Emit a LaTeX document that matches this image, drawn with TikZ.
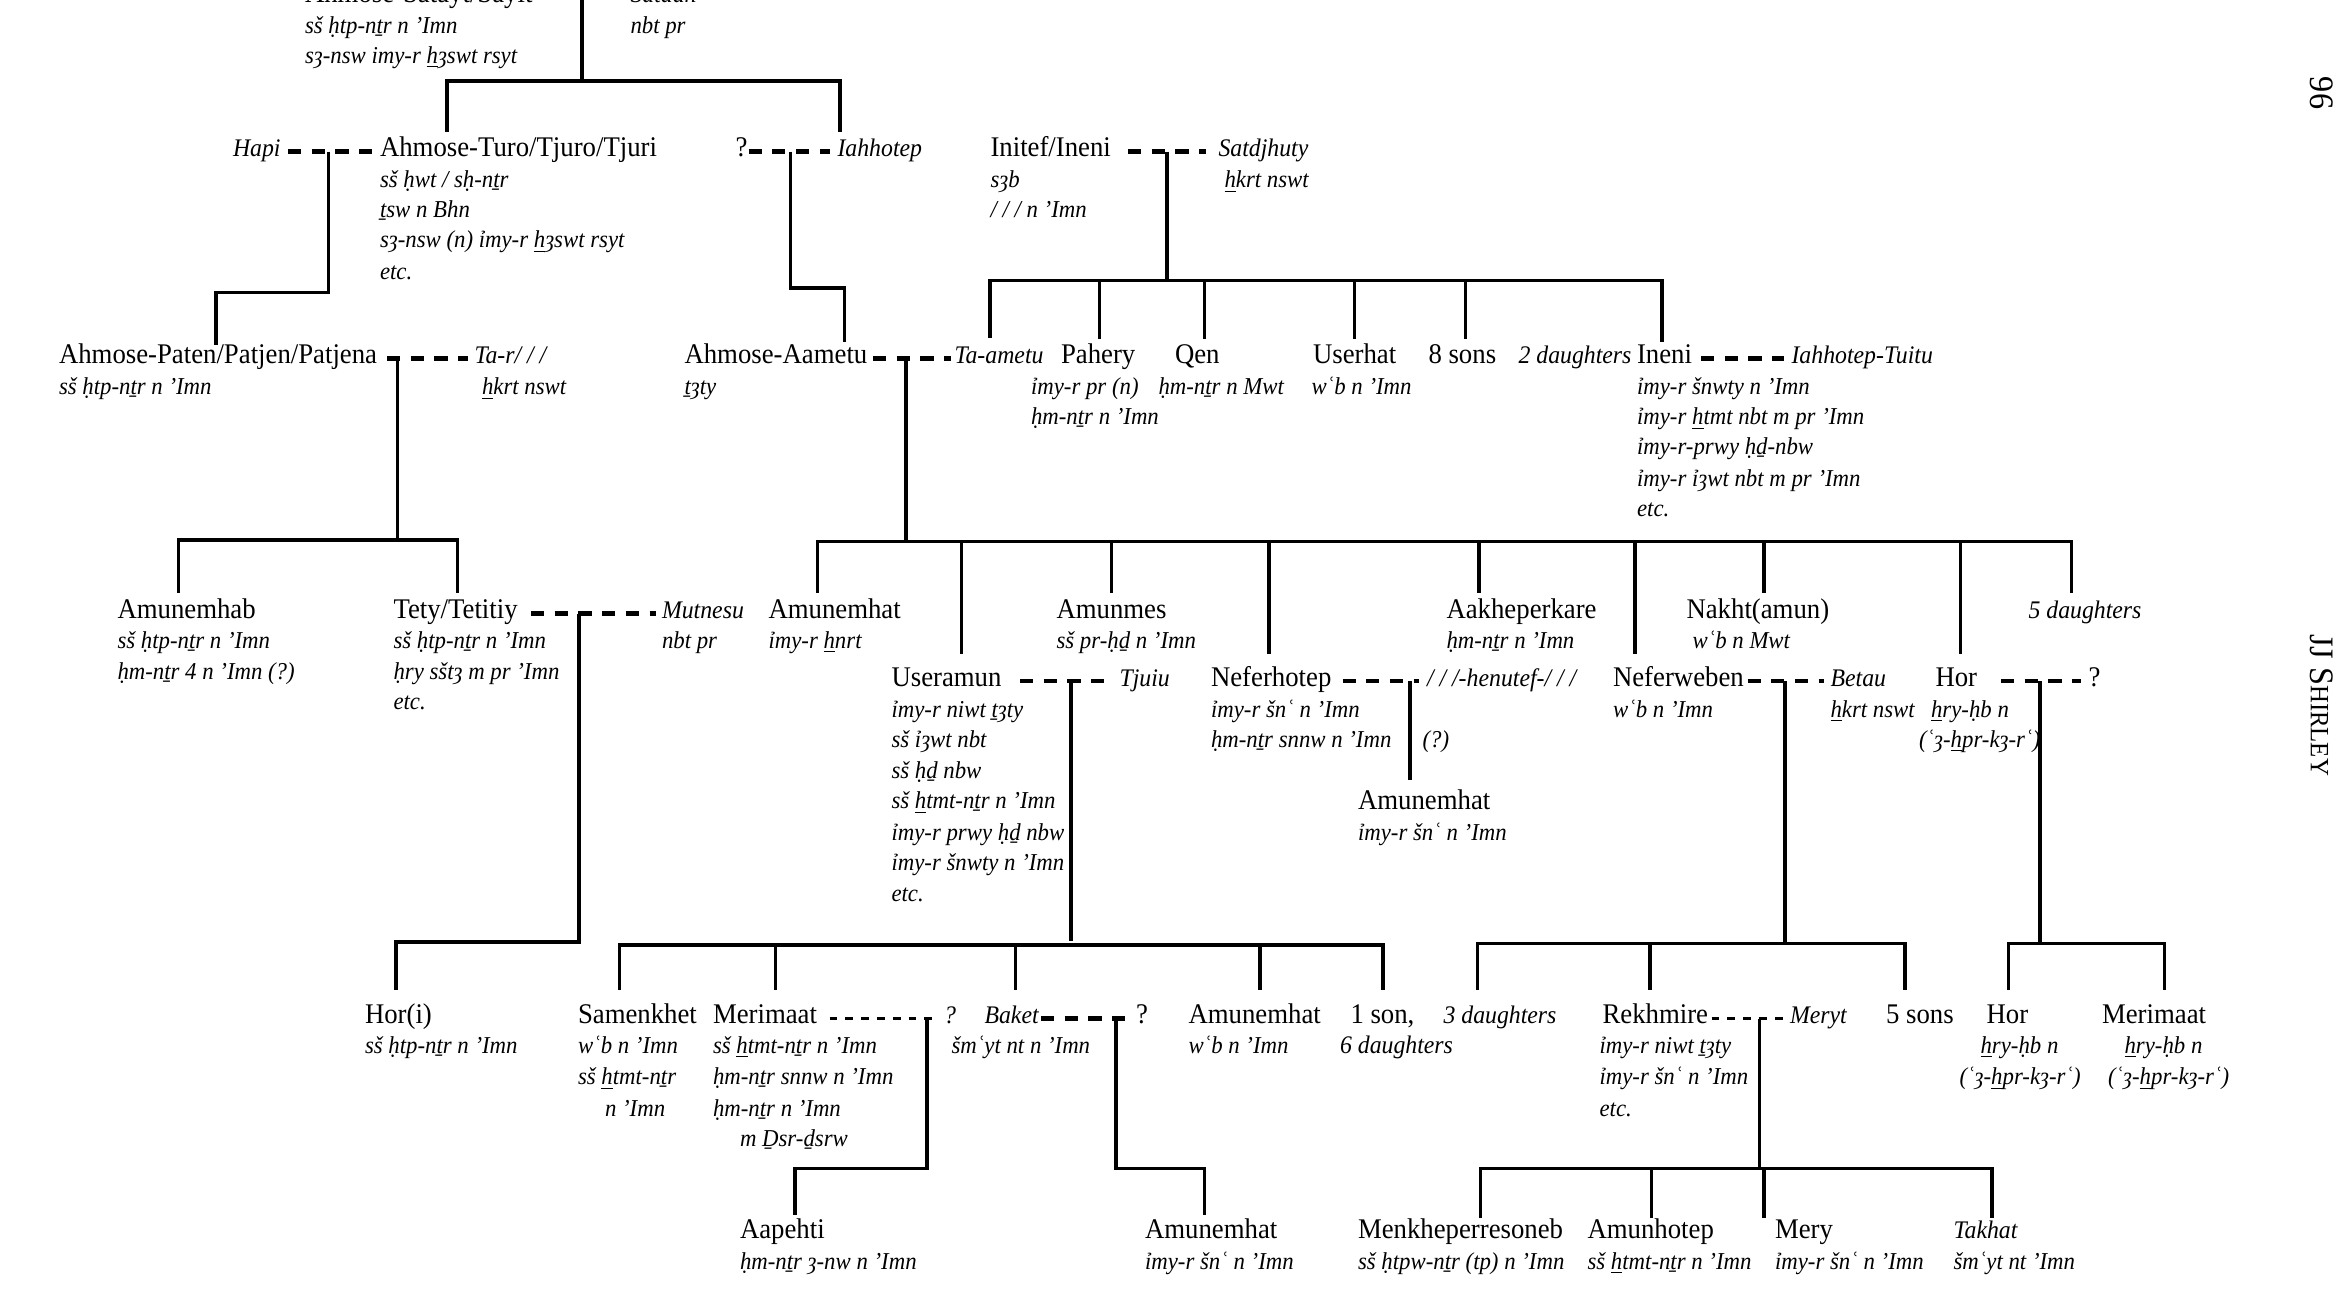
\documentclass[tikz,border=0pt]{standalone}
\usepackage{fontspec}
\setmainfont{Liberation Serif}[FakeStretch=0.94]
\tikzset{
 nmst/.style={inner sep=0pt,font=\fontsize{10.8}{12}\selectfont},
 nmi/.style={inner sep=0pt,font=\fontsize{9.6}{12}\selectfont\itshape},
 sbst/.style={inner sep=0pt,font=\fontsize{9.2}{11}\selectfont\itshape},
 tree/.style={line width=1.2pt},
 marr/.style={line width=1.6pt,dash pattern=on 5pt off 4pt},
 marr2/.style={line width=1.3pt,dash pattern=on 3pt off 3pt}
}
\newcommand\PN[3]{\node[nmst,anchor=base west] at (#1,#2+4.5) {#3};}
\newcommand\PI[3]{\node[nmi,anchor=base west] at (#1,#2+4.5) {#3};}
\newcommand\PS[3]{\node[sbst,anchor=base west] at (#1,#2+4) {#3};}
\newcommand\UL[1]{\underline{#1}}
\begin{document}
\begin{tikzpicture}[x=0.02cm,y=-0.02cm]
\useasboundingbox (0,0) rectangle (1568,873);
\clip (0,0) rectangle (1568,873);
% top
\PN{203}{-3}{Ahmose-Satayt/Sayit}
\PS{203}{18}{sš ḥtp-nṯr n ’Imn}
\PS{203}{38}{sȝ-nsw imy-r \UL{h}ȝswt rsyt}
\PI{420}{-3}{Sataah}
\PS{420}{18}{nbt pr}
\draw[tree] (388,0) -- (388,54) (298,88) -- (298,54) -- (560,54) -- (560,88);
% row 1
\PI{155}{100}{Hapi}
\draw[marr] (192,101) -- (248,101);
\draw[tree] (219,101) -- (219,195) -- (144,195) -- (144,230);
\PN{253}{100}{Ahmose-Turo/Tjuro/Tjuri}
\PS{253}{121}{sš ḥwt / sḥ-nṯr}
\PS{253}{141}{ṯsw n Bhn}
\PS{253}{161}{sȝ-nsw (n) ỉmy-r \UL{h}ȝswt rsyt}
\PS{253}{182}{etc.}
\PN{490}{100}{?}
\draw[marr] (499,101) -- (553,101);
\PI{558}{100}{Iahhotep}
\draw[tree] (527,101) -- (527,192) -- (563,192) -- (563,228);
\PN{660}{100}{Initef/Ineni}
\PS{660}{121}{sȝb}
\PS{660}{141}{/ / / n ’Imn}
\draw[marr] (752,101) -- (804,101);
\PI{812}{100}{Satdjhuty}
\PS{816}{121}{\UL{h}krt nswt}
\draw[tree] (778,101) -- (778,187);
\draw[tree] (660,225) -- (660,187) -- (1108,187) -- (1108,228);
\foreach \x in {733,803,903,977} \draw[tree] (\x,187) -- (\x,226);
% row 2
\PN{39}{238}{Ahmose-Paten/Patjen/Patjena}
\PS{39}{259}{sš ḥtp-nṯr n ’Imn}
\draw[marr] (258,239) -- (312,239);
\PI{316}{238}{Ta-r/ / /}
\PS{321}{259}{\UL{h}krt nswt}
\draw[tree] (265,239) -- (265,360);
\draw[tree] (119,395) -- (119,360) -- (305,360) -- (305,395);
\PN{456}{238}{Ahmose-Aametu}
\PS{456}{259}{ṯȝty}
\draw[marr] (582,239) -- (634,239);
\PI{636}{238}{Ta-ametu}
\draw[tree] (604,239) -- (604,361);
\draw[tree] (545,395) -- (545,361) -- (1381,361) -- (1381,395);
\foreach \x/\y in {641/436,741/395,846/436,986/395,1090/436,1176/395,1307/436} \draw[tree] (\x,361) -- (\x,\y);
\PN{707}{238}{Pahery}
\PS{687}{259}{ỉmy-r pr (n)}
\PS{687}{279}{ḥm-nṯr n ’Imn}
\PN{783}{238}{Qen}
\PS{772}{259}{ḥm-nṯr n Mwt}
\PN{875}{238}{Userhat}
\PS{874}{259}{wʿb n ’Imn}
\PN{952}{238}{8 sons}
\PI{1012}{238}{2 daughters}
\PN{1091}{238}{Ineni}
\draw[marr] (1134,239) -- (1189,239);
\PI{1194}{238}{Iahhotep-Tuitu}
\PS{1091}{259}{ỉmy-r šnwty n ’Imn}
\PS{1091}{279}{ỉmy-r \UL{h}tmt nbt m pr ’Imn}
\PS{1091}{299}{ỉmy-r-prwy ḥḏ-nbw}
\PS{1091}{320}{ỉmy-r ỉȝwt nbt m pr ’Imn}
\PS{1091}{340}{etc.}
% row 3
\PN{78}{408}{Amunemhab}
\PS{78}{428}{sš ḥtp-nṯr n ’Imn}
\PS{78}{449}{ḥm-nṯr 4 n ’Imn (?)}
\PN{262}{408}{Tety/Tetitiy}
\PS{262}{428}{sš ḥtp-nṯr n ’Imn}
\PS{262}{449}{ḥry sštȝ m pr ’Imn}
\PS{262}{469}{etc.}
\draw[marr] (354,409) -- (437,409);
\PI{441}{408}{Mutnesu}
\PS{441}{428}{nbt pr}
\draw[tree] (386,409) -- (386,628) -- (264,628) -- (264,660);
\PN{512}{408}{Amunemhat}
\PS{512}{428}{ỉmy-r \UL{h}nrt}
\PN{704}{408}{Amunmes}
\PS{704}{428}{sš pr-ḥḏ n ’Imn}
\PN{964}{408}{Aakheperkare}
\PS{964}{428}{ḥm-nṯr n ’Imn}
\PN{1124}{408}{Nakht(amun)}
\PS{1128}{428}{wʿb n Mwt}
\PI{1352}{408}{5 daughters}
% row 3b
\PN{594}{453}{Useramun}
\PS{594}{474}{ỉmy-r niwt ṯȝty}
\PS{594}{494}{sš ỉȝwt nbt}
\PS{594}{515}{sš ḥḏ nbw}
\PS{594}{535}{sš \UL{h}tmt-nṯr n ’Imn}
\PS{594}{556}{ỉmy-r prwy ḥḏ nbw}
\PS{594}{576}{ỉmy-r šnwty n ’Imn}
\PS{594}{597}{etc.}
\draw[marr] (680,454) -- (741,454);
\PI{746}{453}{Tjuiu}
\draw[tree] (714,454) -- (714,627);
\draw[tree] (413,660) -- (413,630) -- (922,630) -- (922,660);
\foreach \x in {517,677,840} \draw[tree] (\x,630) -- (\x,660);
\PN{807}{453}{Neferhotep}
\PS{807}{474}{ỉmy-r šnʿ n ’Imn}
\PS{807}{494}{ḥm-nṯr snnw n ’Imn}
\draw[marr] (895,454) -- (946,454);
\PI{951}{453}{/ / /-henutef-/ / /}
\PS{948}{494}{(?)}
\draw[tree] (940,454) -- (940,520);
\PN{905}{535}{Amunemhat}
\PS{905}{556}{ỉmy-r šnʿ n ’Imn}
\PN{1075}{453}{Neferweben}
\PS{1075}{474}{wʿb n ’Imn}
\draw[marr] (1165,454) -- (1216,454);
\PI{1220}{453}{Betau}
\PS{1220}{474}{\UL{h}krt nswt}
\draw[tree] (1190,454) -- (1190,629);
\draw[tree] (985,660) -- (985,629) -- (1270,629) -- (1270,660);
\draw[tree] (1100,629) -- (1100,660);
\PN{1290}{453}{Hor}
\PS{1287}{474}{\UL{h}ry-ḥb n}
\PS{1279}{494}{(ʿȝ-\UL{h}pr-kȝ-rʿ)}
\draw[marr] (1334,454) -- (1387,454);
\PN{1392}{453}{?}
\draw[tree] (1360,454) -- (1360,629);
\draw[tree] (1339,660) -- (1339,629) -- (1443,629) -- (1443,660);
% row 4
\PN{243}{678}{Hor(i)}
\PS{243}{698}{sš ḥtp-nṯr n ’Imn}
\PN{385}{678}{Samenkhet}
\PS{385}{698}{wʿb n ’Imn}
\PS{385}{719}{sš \UL{h}tmt-nṯr}
\PS{403}{740}{n ’Imn}
\PN{475}{678}{Merimaat}
\PS{475}{698}{sš \UL{h}tmt-nṯr n ’Imn}
\PS{475}{719}{ḥm-nṯr snnw n ’Imn}
\PS{475}{740}{ḥm-nṯr n ’Imn}
\PS{493}{760}{m Ḏsr-ḏsrw}
\draw[marr2] (553,679) -- (622,679);
\PI{629}{678}{?}
\draw[tree] (618,679) -- (618,779) -- (530,779) -- (530,810);
\PI{656}{678}{Baket}
\PS{634}{698}{šmʿyt nt n ’Imn}
\draw[marr] (694,679) -- (750,679);
\PN{757}{678}{?}
\draw[tree] (744,679) -- (744,779) -- (803,779) -- (803,810);
\PN{792}{678}{Amunemhat}
\PS{792}{698}{wʿb n ’Imn}
\PN{900}{678}{1 son,}
\PI{893}{698}{6 daughters}
\PI{962}{678}{3 daughters}
\PN{1068}{678}{Rekhmire}
\PS{1066}{698}{ỉmy-r niwt ṯȝty}
\PS{1066}{719}{ỉmy-r šnʿ n ’Imn}
\PS{1066}{740}{etc.}
\draw[marr2] (1141,679) -- (1189,679);
\PI{1193}{678}{Meryt}
\draw[tree] (1173,679) -- (1173,779);
\draw[tree] (987,812) -- (987,779) -- (1328,779) -- (1328,812);
\foreach \x in {1101,1176} \draw[tree] (\x,779) -- (\x,812);
\PN{1257}{678}{5 sons}
\PN{1324}{678}{Hor}
\PS{1320}{698}{\UL{h}ry-ḥb n}
\PS{1306}{719}{(ʿȝ-\UL{h}pr-kȝ-rʿ)}
\PN{1401}{678}{Merimaat}
\PS{1416}{698}{\UL{h}ry-ḥb n}
\PS{1405}{719}{(ʿȝ-\UL{h}pr-kȝ-rʿ)}
% row 5
\PN{493}{821}{Aapehti}
\PS{493}{842}{ḥm-nṯr ȝ-nw n ’Imn}
\PN{763}{821}{Amunemhat}
\PS{763}{842}{ỉmy-r šnʿ n ’Imn}
\PN{905}{821}{Menkheperresoneb}
\PS{905}{842}{sš ḥtpw-nṯr (tp) n ’Imn}
\PN{1058}{821}{Amunhotep}
\PS{1058}{842}{sš \UL{h}tmt-nṯr n ’Imn}
\PN{1183}{821}{Mery}
\PS{1183}{842}{ỉmy-r šnʿ n ’Imn}
\PI{1302}{821}{Takhat}
\PS{1302}{842}{šmʿyt nt ’Imn}
% margin
\node[rotate=-90,font=\fontsize{13}{14}\selectfont] at (1548,62) {96};
\node[rotate=-90,font=\fontsize{13}{14}\selectfont] at (1548,470) {JJ S{\fontsize{10}{12}\selectfont HIRLEY}};
\end{tikzpicture}
\end{document}
